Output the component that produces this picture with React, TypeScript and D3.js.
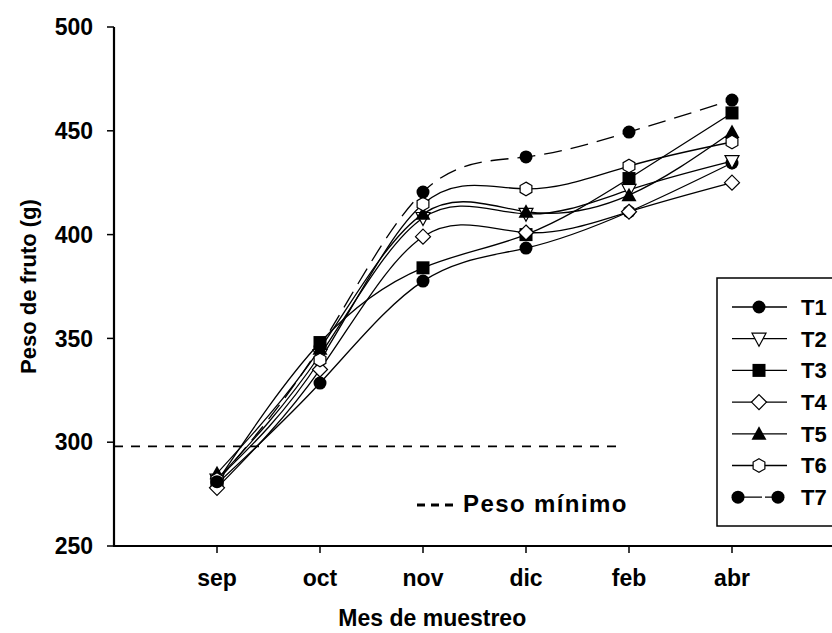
import React from "react";
import * as d3 from "d3";

const WIDTH = 832;
const HEIGHT = 633;
const MARGIN = { top: 27, right: -3, bottom: 87, left: 114 };

const months = ["sep", "oct", "nov", "dic", "feb", "abr"];
const yTicks = [250, 300, 350, 400, 450, 500];

const t1 = [280, 328.5, 377.6, 393.5, 411, 434.5];
const t2 = [282, 342, 408, 410, 421.5, 435.4];
const t3 = [281, 348, 384, 400, 427, 458.6];
const t4 = [278, 335, 399, 401, 411, 425];
const t5 = [285, 345, 410, 411, 419, 449.4];
const t6 = [282, 339.6, 414.7, 422, 433, 444.6];
const t7 = [281, 346, 420.5, 437.4, 449.4, 464.8];

const pesoMinimo = 298;

const seriesNames = ["T1", "T2", "T3", "T4", "T5", "T6", "T7"];
const seriesValues = [t1, t2, t3, t4, t5, t6, t7];
const seriesMarkers = ["circle", "triangleDown", "square", "diamond", "triangleUp", "hexagon", "circle"];

const FONT = "'Liberation Sans', Arial, sans-serif";

// one marker glyph, centred on x,y
function Marker({ type, x, y }: { type: string; x: number; y: number }) {
  const common = { stroke: "#000", strokeWidth: 1.2 };
  const t = `translate(${x},${y})`;
  if (type === "circle") return <circle cx={x} cy={y} r={6.5} fill="#000" />;
  if (type === "square")
    return <rect x={x - 6.5} y={y - 6.5} width={13} height={13} fill="#000" />;
  if (type === "triangleUp")
    return <path transform={t} d="M0,-7.5L7.5,6L-7.5,6Z" fill="#000" />;
  if (type === "triangleDown")
    return <path transform={t} d="M0,7.5L7,-5.5L-7,-5.5Z" fill="#fff" {...common} />;
  if (type === "diamond")
    return <path transform={t} d="M0,-7.5L7.5,0L0,7.5L-7.5,0Z" fill="#fff" {...common} />;
  // hexagon
  const pts = d3.range(6).map((i) => {
    const a = (Math.PI / 3) * i - Math.PI / 2;
    return [6.8 * Math.cos(a), 6.8 * Math.sin(a)];
  });
  return <path transform={t} d={"M" + pts.join("L") + "Z"} fill="#fff" {...common} />;
}

export default function App() {
  const boundsWidth = WIDTH - MARGIN.left - MARGIN.right;
  const boundsHeight = HEIGHT - MARGIN.top - MARGIN.bottom;

  const xScale = d3.scaleLinear().domain([0, 7]).range([0, boundsWidth]);
  const yScale = d3.scaleLinear().domain([250, 500]).range([boundsHeight, 0]);

  const line = d3
    .line<number>()
    .x((_, i) => xScale(i + 1))
    .y((d) => yScale(d))
    .curve(d3.curveNatural);

  const legendX = 717 - MARGIN.left;
  const legendTop = 278 - MARGIN.top;
  const rowGap = 31.7;
  const noteX = 417 - MARGIN.left;
  const noteY = 512 - MARGIN.top;

  return (
    <svg width={WIDTH} height={HEIGHT} style={{ position: "absolute", left: 0, top: 0 }}>
      <rect width={WIDTH} height={HEIGHT} fill="#fff" />
      <g transform={`translate(${MARGIN.left}, ${MARGIN.top})`} fontFamily={FONT} fontWeight="bold">
        {/* minimum weight reference */}
        <line
          x1={0}
          x2={xScale(4.93)}
          y1={yScale(pesoMinimo)}
          y2={yScale(pesoMinimo)}
          stroke="#000"
          strokeWidth={1.6}
          strokeDasharray="9,8"
        />

        {/* lines */}
        {seriesValues.map((vals, s) => (
          <path
            key={"l" + s}
            d={line(vals) || ""}
            fill="none"
            stroke="#000"
            strokeWidth={1.3}
            strokeDasharray={s === 6 ? "18,9" : undefined}
          />
        ))}

        {/* markers */}
        {seriesValues.map((vals, s) =>
          vals.map((v, i) => (
            <Marker key={`m${s}-${i}`} type={seriesMarkers[s]} x={xScale(i + 1)} y={yScale(v)} />
          ))
        )}

        {/* y axis */}
        <line x1={0} x2={0} y1={0} y2={boundsHeight + 1} stroke="#000" strokeWidth={2.2} />
        {yTicks.map((t) => (
          <g key={t} transform={`translate(0,${yScale(t)})`}>
            <line x1={-7} x2={0} stroke="#000" strokeWidth={1.5} />
            <text x={-21} dy="0.36em" textAnchor="end" fontSize={23}>
              {t}
            </text>
          </g>
        ))}

        {/* x axis */}
        <line x1={-1} x2={boundsWidth + 5} y1={boundsHeight} y2={boundsHeight} stroke="#000" strokeWidth={2.2} />
        {months.map((m, i) => (
          <g key={m} transform={`translate(${xScale(i + 1)},${boundsHeight})`}>
            <line y1={0} y2={7} stroke="#000" strokeWidth={1.5} />
            <text y={40} textAnchor="middle" fontSize={23}>
              {m}
            </text>
          </g>
        ))}

        <text x={xScale(3.09)} y={boundsHeight + 80} textAnchor="middle" fontSize={23}>
          Mes de muestreo
        </text>
        <text
          transform={`translate(${28 - MARGIN.left},${boundsHeight / 2}) rotate(-90)`}
          textAnchor="middle"
          dy="0.35em"
          fontSize={22}
        >
          Peso de fruto (g)
        </text>

        {/* minimum weight label */}
        {[0, 14, 28].map((dx) => (
          <line key={dx} x1={noteX + dx} x2={noteX + dx + 8} y1={noteY - 7} y2={noteY - 7} stroke="#000" strokeWidth={3} />
        ))}
        <text x={noteX + 46} y={noteY} fontSize={24} letterSpacing={1.4}>
          Peso mínimo
        </text>

        {/* legend */}
        <rect
          x={legendX}
          y={legendTop}
          width={WIDTH - 717 + 10}
          height={526 - 278}
          fill="#fff"
          stroke="#000"
          strokeWidth={1.5}
        />
        {seriesNames.map((name, s) => {
          const cy = legendTop + 29 + s * rowGap;
          const lx = 732 - MARGIN.left;
          return (
            <g key={name}>
              {s < 6 ? (
                <>
                  <line x1={lx} x2={lx + 55} y1={cy} y2={cy} stroke="#000" strokeWidth={1.3} />
                  <Marker type={seriesMarkers[s]} x={lx + 27} y={cy} />
                </>
              ) : (
                <>
                  <line x1={lx + 6} x2={lx + 40} y1={cy} y2={cy} stroke="#000" strokeWidth={1.3} strokeDasharray="24,3" />
                  <Marker type="circle" x={lx + 6} y={cy} />
                  <Marker type="circle" x={lx + 46} y={cy} />
                </>
              )}
              <text x={801 - MARGIN.left} y={cy} dy="0.36em" fontSize={22}>
                {name}
              </text>
            </g>
          );
        })}
      </g>
    </svg>
  );
}
